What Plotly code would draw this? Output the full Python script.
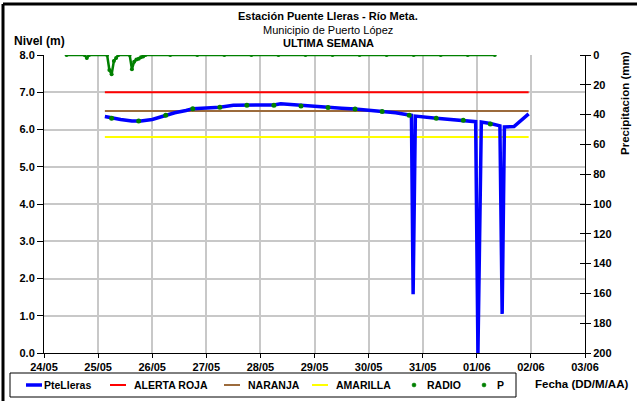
import plotly.graph_objects as go

FONT = "Liberation Sans, Arial, sans-serif"

# ---- Data ----
level_time = [
    "2013-05-25 03:00", "2013-05-25 06:00", "2013-05-25 10:00", "2013-05-25 15:00",
    "2013-05-25 19:00", "2013-05-26 00:00", "2013-05-26 06:00", "2013-05-26 10:00",
    "2013-05-26 15:00", "2013-05-26 18:00", "2013-05-26 22:00", "2013-05-27 06:00",
    "2013-05-27 12:00", "2013-05-27 18:00", "2013-05-28 00:00", "2013-05-28 06:00",
    "2013-05-28 09:00", "2013-05-28 13:00", "2013-05-28 18:00", "2013-05-29 00:00",
    "2013-05-29 06:00", "2013-05-29 08:00", "2013-05-29 12:00", "2013-05-29 18:00",
    "2013-05-30 00:00", "2013-05-30 06:00", "2013-05-30 12:00", "2013-05-30 18:00",
    "2013-05-30 19:00", "2013-05-30 19:45", "2013-05-30 20:45", "2013-05-31 06:00",
    "2013-05-31 18:00", "2013-05-31 23:30", "2013-06-01 00:30", "2013-06-01 02:00",
    "2013-06-01 06:00", "2013-06-01 10:15", "2013-06-01 11:15", "2013-06-01 12:15",
    "2013-06-01 16:30", "2013-06-01 23:00",
]
level_m = [
    6.35, 6.31, 6.27, 6.23,
    6.23, 6.27, 6.38, 6.45,
    6.51, 6.56, 6.57, 6.60,
    6.65, 6.66, 6.67, 6.66,
    6.69, 6.67, 6.64, 6.62,
    6.59, 6.57, 6.57, 6.55,
    6.52, 6.48, 6.45, 6.39,
    6.38, 1.58, 6.36, 6.30,
    6.25, 6.21, 0.0, 6.20,
    6.16, 6.10, 1.05, 6.07,
    6.08, 6.42,
]

radio_time = [
    "2013-05-25 06:00", "2013-05-25 18:00", "2013-05-26 06:00", "2013-05-26 18:00",
    "2013-05-27 06:00", "2013-05-27 18:00", "2013-05-28 06:00", "2013-05-28 18:00",
    "2013-05-29 06:00", "2013-05-29 18:00", "2013-05-30 06:00", "2013-05-30 18:00",
    "2013-05-31 06:00", "2013-05-31 18:00", "2013-06-01 06:00",
]
radio_m = [6.30, 6.23, 6.38, 6.56, 6.60, 6.65, 6.65, 6.63,
           6.59, 6.55, 6.48, 6.38, 6.30, 6.25, 6.15]

threshold_time = ["2013-05-25 03:00", "2013-06-01 23:00"]
alerta_roja = [7.0, 7.0]
naranja = [6.5, 6.5]
amarilla = [5.8, 5.8]

precip_time = [
    "2013-05-24 10:00", "2013-05-24 18:00", "2013-05-24 19:00", "2013-05-24 20:00",
    "2013-05-25 04:00", "2013-05-25 05:00", "2013-05-25 06:00", "2013-05-25 07:00",
    "2013-05-25 08:00", "2013-05-25 09:00", "2013-05-25 14:00", "2013-05-25 15:00",
    "2013-05-25 16:00", "2013-05-25 17:00", "2013-05-25 18:00", "2013-05-25 19:00",
    "2013-05-25 20:00", "2013-05-25 21:00", "2013-05-26 08:00", "2013-05-26 20:00",
    "2013-05-27 08:00", "2013-05-27 20:00", "2013-05-28 08:00", "2013-05-28 20:00",
    "2013-05-29 08:00", "2013-05-29 20:00", "2013-05-30 08:00", "2013-05-30 20:00",
    "2013-05-31 08:00", "2013-05-31 20:00", "2013-06-01 08:00",
]
precip_mm = [
    0, 0, 2, 0,
    0, 10, 13, 4,
    2, 0, 0, 9.5,
    4.5, 3, 2.5, 1.5,
    1, 0, 0, 0,
    0, 0, 0, 0,
    0, 0, 0, 0,
    0, 0, 0,
]

x_tick_vals = ["2013-05-24", "2013-05-25", "2013-05-26", "2013-05-27", "2013-05-28",
               "2013-05-29", "2013-05-30", "2013-05-31", "2013-06-01", "2013-06-02",
               "2013-06-03"]
x_tick_text = ["24/05", "25/05", "26/05", "27/05", "28/05", "29/05", "30/05",
               "31/05", "01/06", "02/06", "03/06"]

legend_labels = ["PteLleras", "ALERTA ROJA", "NARANJA", "AMARILLA", "RADIO", "P"]
legend_colors = ["#0000ff", "#ff0000", "#9c6b3c", "#ffff00", "#008000", "#008000"]
legend_kinds = ["line", "line", "line", "line", "dot", "dot"]

# ---- Figure ----
BLUE, RED, BROWN, YELLOW, GREEN = legend_colors[:5]

fig = go.Figure()
fig.add_trace(go.Scatter(x=threshold_time, y=alerta_roja, name="ALERTA ROJA",
                         mode="lines", line=dict(color=RED, width=2)))
fig.add_trace(go.Scatter(x=threshold_time, y=naranja, name="NARANJA",
                         mode="lines", line=dict(color=BROWN, width=2)))
fig.add_trace(go.Scatter(x=threshold_time, y=amarilla, name="AMARILLA",
                         mode="lines", line=dict(color=YELLOW, width=2)))
fig.add_trace(go.Scatter(x=level_time, y=level_m, name="PteLleras",
                         mode="lines", line=dict(color=BLUE, width=3.5)))
fig.add_trace(go.Scatter(x=radio_time, y=radio_m, name="RADIO",
                         mode="markers", marker=dict(color=GREEN, size=5)))
fig.add_trace(go.Scatter(x=precip_time, y=precip_mm, name="P", yaxis="y2",
                         mode="lines+markers", line=dict(color=GREEN, width=2.5),
                         marker=dict(color=GREEN, size=4)))
# invisible helper so the inner tick marks of the precipitation axis are drawn
fig.add_trace(go.Scatter(x=[None], y=[None], yaxis="y3", showlegend=False,
                         hoverinfo="skip"))

W, H = 637, 401
PW, PH = 541.0, 298.0
L, T = 44, 55


def px(xp):
    return (xp - L) / PW


def py(yp):
    return (T + PH - yp) / PH


annotations = [
    dict(text="<b>Estación Puente Lleras - Río Meta.</b>", x=px(328), y=py(16), font=dict(size=11)),
    dict(text="Municipio de Puerto López", x=px(328), y=py(30), font=dict(size=11)),
    dict(text="<b>ULTIMA SEMANA</b>", x=px(328), y=py(43), font=dict(size=11)),
    dict(text="<b>Nivel (m)</b>", x=px(12), y=py(41), xanchor="left", font=dict(size=12)),
    dict(text="<b>Precipitacion (mm)</b>", x=px(625), y=py(103), textangle=-90,
         font=dict(size=11.5)),
    dict(text="<b>Fecha (DD/M/AA)</b>", x=px(581), y=py(384), font=dict(size=11.5)),
]

shapes = [
    dict(type="line", x0=px(3), x1=px(3), y0=py(4), y1=py(402),
         line=dict(color="black", width=3)),
    dict(type="line", x0=px(3), x1=px(640), y0=py(4), y1=py(4),
         line=dict(color="black", width=3)),
    dict(type="rect", x0=px(10), x1=px(516), y0=py(373), y1=py(397),
         line=dict(color="black", width=1), fillcolor="white"),
]

leg_sym_x = [26, 110, 224, 312, 414, 484]
leg_txt_x = [42, 132, 246, 334, 425, 495]
LEG_Y = 385
for lab, col, kind, sx, tx in zip(legend_labels, legend_colors, legend_kinds, leg_sym_x, leg_txt_x):
    if kind == "line":
        shapes.append(dict(type="line", x0=px(sx), x1=px(sx + 16), y0=py(LEG_Y), y1=py(LEG_Y),
                           line=dict(color=col, width=3.5 if lab == "PteLleras" else 2)))
    else:
        shapes.append(dict(type="circle", x0=px(sx - 2), x1=px(sx + 2),
                           y0=py(LEG_Y - 2), y1=py(LEG_Y + 2),
                           line=dict(color=col, width=0.5), fillcolor=col))
    annotations.append(dict(text="<b>%s</b>" % lab, x=px(tx), y=py(LEG_Y), xanchor="left",
                            font=dict(size=10.5)))

for a in annotations:
    a.update(xref="paper", yref="paper", showarrow=False)
    a.setdefault("xanchor", "center")
    a["yanchor"] = "middle"
for s in shapes:
    s.update(xref="paper", yref="paper", layer="above")

fig.update_layout(
    width=W, height=H,
    margin=dict(l=L, r=W - L - int(PW), t=T, b=H - T - int(PH), autoexpand=False),
    paper_bgcolor="white", plot_bgcolor="white",
    font=dict(family=FONT, color="black", size=11),
    annotations=annotations,
    shapes=shapes,
    showlegend=False,
    xaxis=dict(type="date", range=["2013-05-24", "2013-06-03"],
               tickvals=x_tick_vals, ticktext=x_tick_text,
               showline=True, linecolor="black", linewidth=1,
               ticks="outside", ticklen=4, tickcolor="black",
               showgrid=True, gridcolor="#c8c8c8", gridwidth=1.5,
               tickfont=dict(size=11, weight="bold"), zeroline=False, automargin=False),
    yaxis=dict(range=[0, 8], dtick=1, tick0=0, tickformat=".1f",
               showline=True, linecolor="black", linewidth=1,
               ticks="outside", ticklen=6, tickcolor="black",
               showgrid=True, gridcolor="#c8c8c8", gridwidth=1.5,
               tickfont=dict(size=11, weight="bold"), zeroline=False, automargin=False),
    yaxis2=dict(overlaying="y", side="right", range=[200, 0], dtick=20, tick0=0,
                showline=True, linecolor="black", linewidth=1,
                ticks="outside", ticklen=5, tickcolor="black",
                showgrid=False, zeroline=False, automargin=False,
                tickfont=dict(size=11, weight="bold")),
    yaxis3=dict(overlaying="y", anchor="free", position=1.0, side="left",
                range=[200, 0], dtick=20, tick0=0, showline=False,
                ticks="outside", ticklen=5, tickcolor="black",
                showticklabels=False, showgrid=False, zeroline=False, automargin=False),
)

fig.write_html("out.html", config={"displayModeBar": False},
               post_script="document.body.style.margin='0';document.body.style.overflow='hidden';")
